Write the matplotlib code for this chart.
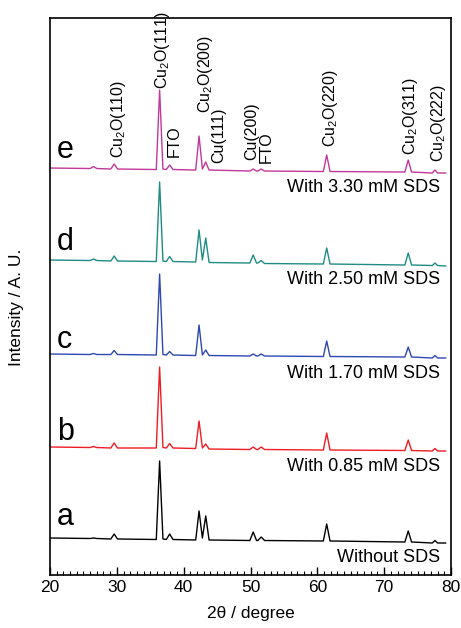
import matplotlib
matplotlib.use("Agg")
import matplotlib.pyplot as plt
from matplotlib.ticker import MultipleLocator

plt.rcParams['font.family'] = ['Liberation Sans', 'DejaVu Sans']
plt.rcParams['mathtext.fontset'] = 'custom'
plt.rcParams['mathtext.rm'] = 'Liberation Sans'
plt.rcParams['mathtext.it'] = 'Liberation Sans:italic'

# 2theta vertices shared by all patterns
two_theta = [20.0, 26.0, 26.5, 27.0, 29.1, 29.6, 30.1, 35.9, 36.4, 36.9,
             37.4, 37.9, 38.4, 41.8, 42.3, 42.8, 43.3, 43.8, 49.9, 50.4,
             50.9, 51.1, 51.6, 52.1, 60.9, 61.4, 61.9, 73.1, 73.6, 74.1,
             77.2, 77.6, 78.0, 79.2]

# stacked intensities (a.u.), one list per sample
int_a = [37, 36.5, 37, 36.5, 36, 41, 36, 35.5, 114, 36,
         35.5, 41, 35.5, 35, 64, 37, 59, 35, 34.5, 43,
         34.5, 34.5, 38, 34.5, 34, 51, 34, 33, 44, 33,
         32, 34.5, 32, 32]
int_b = [128, 127.5, 128.5, 127.5, 127, 132, 127, 127, 208, 127.5,
         127, 131.5, 127, 126.5, 154, 127, 131, 126, 125.5, 128,
         125.5, 125.5, 128, 125.5, 125, 142, 125, 124.5, 135, 124.5,
         124, 126.5, 124, 124]
int_c = [221, 220.5, 221.5, 220.5, 220.5, 224.5, 220.5, 220, 301, 220.5,
         220, 223.5, 220, 219.5, 250, 220, 225, 219.5, 219, 221,
         219, 219, 221, 219, 218.5, 234, 218.5, 218, 228, 218,
         217, 219.5, 217, 217]
int_d = [315, 314.5, 316, 314.5, 314, 319, 314, 313.5, 393, 314,
         313.5, 318.5, 313.5, 313, 345, 315, 337, 312.5, 312, 320,
         312, 312, 314.5, 311.5, 311, 327, 311, 310, 322, 310,
         309.5, 312, 309.5, 309]
int_e = [407, 406.5, 408.5, 406.5, 406, 411, 406, 405.5, 485, 406,
         405.5, 410, 405.5, 405, 439, 406, 413, 405, 404, 406,
         404, 404, 406, 404, 403.5, 420, 403.5, 403, 415, 403,
         402, 405, 402, 402]

series = [int_a, int_b, int_c, int_d, int_e]
colors = ['black', '#ee1c24', '#2e48b0', '#1e8c84', '#c0389a']
letters = ['a', 'b', 'c', 'd', 'e']
letter_y = [50, 135, 227, 325, 417]
samples = ['Without SDS', 'With 0.85 mM SDS', 'With 1.70 mM SDS',
           'With 2.50 mM SDS', 'With 3.30 mM SDS']
sample_y = [13, 104, 197, 291, 383]

# peak assignments on top pattern
peak_labels = ['Cu$_2$O(110)', 'Cu$_2$O(111)', 'FTO', 'Cu$_2$O(200)', 'Cu(111)',
               'Cu(200)', 'FTO', 'Cu$_2$O(220)', 'Cu$_2$O(311)', 'Cu$_2$O(222)']
peak_x = [30.2, 36.9, 38.6, 43.2, 45.2, 50.2, 52.3, 61.9, 73.9, 78.1]
peak_y = [417, 486, 418, 462, 412, 415, 412, 428, 420, 413]

fig = plt.figure(figsize=(4.61, 6.28), dpi=100)
ax = fig.add_axes([0.1085, 0.0844, 0.8698, 0.8869])

for ys, c in zip(series, colors):
    ax.plot(two_theta, ys, color=c, lw=1.0)

for l, y in zip(letters, letter_y):
    ax.text(21.0, y, l, fontsize=22, ha='left', va='baseline')
for s, y in zip(samples, sample_y):
    ax.text(78.4, y, s, fontsize=13, ha='right', va='baseline')
for t, x, y in zip(peak_labels, peak_x, peak_y):
    ax.text(x, y, t, fontsize=11.5, rotation=90, ha='center', va='bottom',
            clip_on=False)

ax.set_xlim(20, 80)
ax.set_ylim(0, 557)
ax.xaxis.set_major_locator(MultipleLocator(10))
ax.xaxis.set_minor_locator(MultipleLocator(1))
ax.tick_params(axis='x', which='both', direction='in', labelsize=12.5)
ax.tick_params(axis='x', which='major', length=6, width=1)
ax.tick_params(axis='x', which='minor', length=3, width=0.8)
ax.set_yticks([])
for sp in ax.spines.values():
    sp.set_linewidth(1.2)

ax.set_xlabel('2θ / degree', fontsize=12.5, labelpad=8)
ax.set_ylabel('Intensity / A. U.', fontsize=12.5)
ax.yaxis.set_label_coords(-0.065, 0.48)

fig.savefig('out.png', dpi=100)
